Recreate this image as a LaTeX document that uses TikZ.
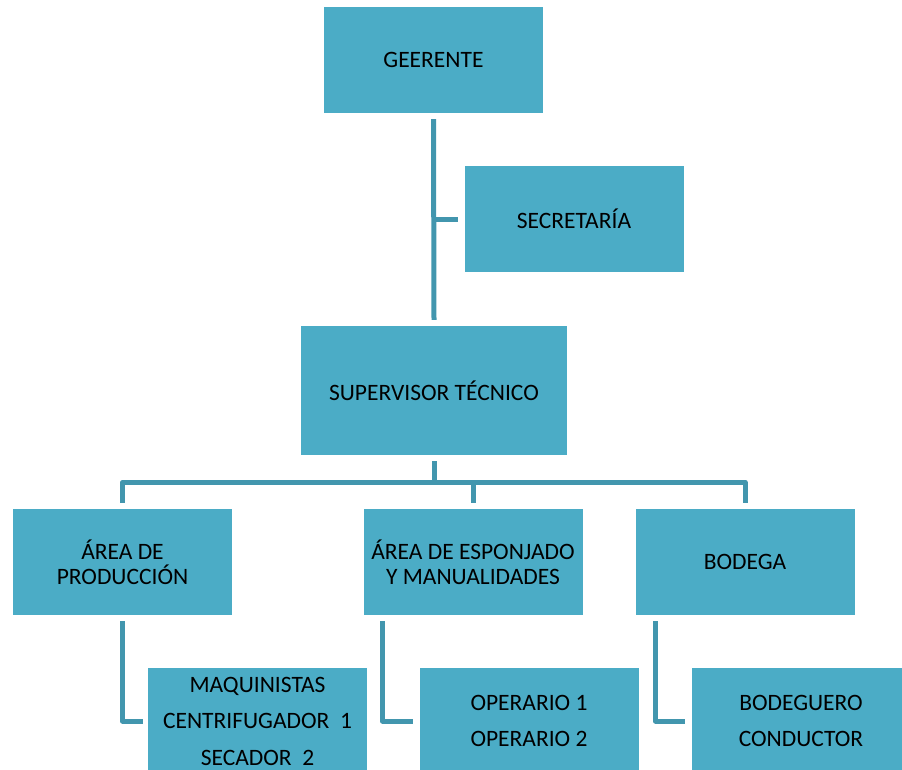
\documentclass[tikz,border=0pt]{standalone}
\usepackage{fontspec}
\setmainfont{Carlito}
\usepackage{xcolor}
\usetikzlibrary{positioning}

\definecolor{cajaazul}{HTML}{4BACC6}
\definecolor{lineaazul}{HTML}{4296AE}

\tikzset{
    caja/.style={fill=cajaazul, text=black, inner sep=0pt, align=center,
        minimum width=219pt, minimum height=106pt,
        font=\fontsize{23.5}{25}\selectfont},
    conn/.style={draw=lineaazul, line width=5pt, line join=round}
}

\begin{document}
\begin{tikzpicture}[x=1pt,y=-1pt]
            \useasboundingbox (0,0) rectangle (902,769);
            \clip (0,0) rectangle (902,769);

            \node[caja] (ger) at (433.5,60) {GEERENTE};
            \node[caja] (sec) at (574,219) {SECRETARÍA};
            \node[caja, minimum width=266pt, minimum height=129pt] (sup) at (434,390.5) {SUPERVISOR TÉCNICO};

            \node[caja] (prod) at (122.5,562) {ÁREA DE\\PRODUCCIÓN};
            \node[caja] (esp) at (473,562) {ÁREA DE ESPONJADO\\Y MANUALIDADES};
            \node[caja] (bod) at (745,562) {BODEGA};

            \node[caja] (maq) at (257.5,721) {MAQUINISTAS\\[11.5pt]CENTRIFUGADOR~~1\\[11.5pt]SECADOR~~2};
            \node[caja] (ope) at (529,721) {OPERARIO 1\\[11.5pt]OPERARIO 2};
            \node[caja] (bdg) at (801,721) {BODEGUERO\\[11.5pt]CONDUCTOR};

            % gerente - secretaria - supervisor
            \draw[conn] ([yshift=-6pt]ger.south) -- ([yshift=6pt]sup.north);
            \draw[conn] (ger.south |- sec.west) -- ([xshift=-6pt]sec.west);

            % supervisor - areas
            \draw[conn] ([yshift=-6pt]sup.south) -- ++(0,21) coordinate (bus);
            \draw[conn] ([yshift=6pt]prod.north) |- (bus) -| ([yshift=6pt]bod.north);
            \draw[conn] ([yshift=6pt]esp.north) -- (esp.north |- bus);

            % areas - personal
            \draw[conn] ([yshift=-6pt]prod.south) |- ([xshift=-5pt]maq.west);
            \draw[conn] ([xshift=19pt,yshift=-6pt]esp.south west) |- ([xshift=-6pt]ope.west);
            \draw[conn] ([xshift=20pt,yshift=-6pt]bod.south west) |- ([xshift=-6pt]bdg.west);
        \end{tikzpicture}
\end{document}
